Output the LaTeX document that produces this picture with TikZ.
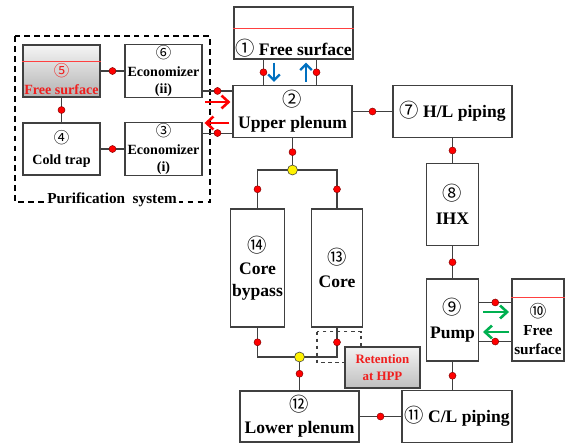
\documentclass[tikz,border=0pt]{standalone}
\usepackage{fontspec}
\setmainfont{Liberation Serif}
\newfontfamily\numfont[Scale=1.1]{Noto Sans CJK JP}
\usetikzlibrary{arrows.meta,calc}

\definecolor{lncol}{RGB}{64,64,64}
\definecolor{fsred}{RGB}{240,30,30}
\definecolor{flblue}{RGB}{0,112,192}
\definecolor{flgreen}{RGB}{0,176,80}
\newcommand{\cnum}[1]{{\numfont\mdseries #1}}

\tikzset{
  box/.style={draw=lncol,line width=0.9pt,fill=white,align=center,inner sep=1pt,
    font=\bfseries\fontsize{15}{19}\selectfont},
  bigbox/.style={box,minimum width=3.57cm,minimum height=1.56cm},
  tallbox/.style={box,minimum width=1.56cm,minimum height=2.46cm},
  colbox/.style={box,minimum width=1.54cm,minimum height=3.54cm},
  smallbox/.style={box,minimum width=2.31cm,minimum height=1.56cm,
    font=\bfseries\fontsize{12}{15}\selectfont},
  pipe/.style={draw=lncol,line width=0.9pt},
  rdot/.style={circle,fill=red,draw=red!50!black,line width=0.4pt,inner sep=0pt,minimum size=0.21cm},
  ydot/.style={circle,fill=yellow,draw=lncol,line width=0.5pt,inner sep=0pt,minimum size=0.3cm},
  flow/.style={line width=2pt,-{Straight Barb[length=5pt,width=10pt]}},
  bigflow/.style={line width=2.2pt,-{Straight Barb[length=6pt,width=11pt]}},
  level/.style={draw=red!75,line width=0.6pt}
}

\begin{document}
\begin{tikzpicture}[x=0.03cm,y=-0.03cm]
  \useasboundingbox (0,0) rectangle (574,444);
  % purification system
  \draw[black,line width=1.1pt,dash pattern=on 5pt off 3.5pt] (15,36) rectangle (210,202);
  \node[fill=white,inner sep=2pt,font=\bfseries\fontsize{13}{15}\selectfont] (purlbl) at (112,200) {Purification\ \ system};
  \node[smallbox,fill=none,shading=axis,top color=gray!8,middle color=gray!30,bottom color=gray!60] (b5) at (61.5,71) {};
  \draw[level] ($(b5.north west)+(0,17)$) -- ($(b5.north east)+(0,17)$);
  \node[text=fsred,align=center,font=\bfseries\fontsize{12}{15}\selectfont] (b5txt) at ($(b5.center)+(0,8)$) {\cnum{⑤}\\Free surface};
  \node[smallbox] (b6) at (163.5,71) {\cnum{⑥}\\Economizer\\(ii)};
  \node[smallbox] (b4) at (61.5,149) {\cnum{④}\\[3pt]Cold trap};
  \node[smallbox] (b3) at (163.5,149) {\cnum{③}\\Economizer\\(i)};
  \draw[pipe] (b5) -- node[rdot]{} (b6);
  \draw[pipe] (b5) -- node[rdot]{} (b4);
  \draw[pipe] (b4) -- node[rdot]{} (b3);

  % primary loop
  \node[bigbox] (b1) at (293.5,33) {};
  \draw[level] ($(b1.north west)+(0,22)$) -- ($(b1.north east)+(0,22)$);
  \node[font=\bfseries\fontsize{15}{19}\selectfont] (b1txt) at ($(b1.south)+(0,-11)$) {\cnum{①} Free surface};
  \node[bigbox] (b2) at (292.5,111.5) {\cnum{②}\\Upper plenum};
  \node[bigbox] (b7) at (452.5,111.5) {\cnum{⑦} H/L piping};
  \node[tallbox] (b8) at (452.5,204.5) {\cnum{⑧}\\[2pt]IHX};
  \node[tallbox] (b9) at (452.5,320) {\cnum{⑨}\\[2pt]Pump};
  \node[tallbox] (b10) at (538,320) {};
  \draw[level] ($(b10.north west)+(0,19)$) -- ($(b10.north east)+(0,19)$);
  \node[align=center,font=\bfseries\fontsize{13}{15.5}\selectfont] (b10txt) at ($(b10.center)+(0,9)$) {\cnum{⑩}\\Free\\surface};
  \node[bigbox,minimum width=3.3cm] (b11) at (457,416.5) {\cnum{⑪} C/L piping};
  \node[bigbox,minimum height=1.53cm] (b12) at (299.5,416.5) {\cnum{⑫}\\Lower plenum};
  \node[colbox] (b14) at (257.5,268) {\cnum{⑭}\\Core\\bypass};
  \node[colbox] (b13) at (337,268) {\cnum{⑬}\\Core};
  \coordinate (jtop) at (292.5,170);
  \coordinate (jbot) at (299.5,357);

  % connections
  \draw[pipe] ($(b1.south west)+(30,0)$) coordinate (f1) -- node[rdot]{} (f1 |- b2.north);
  \draw[pipe] ($(b1.south east)+(-37,0)$) coordinate (f2) -- node[rdot]{} (f2 |- b2.north);
  \draw[pipe] ($(b2.north west)+(0,6)$) coordinate (e2) -- node[rdot]{} (e2 -| b6.east);
  \draw[pipe] ($(b2.south west)+(0,-5)$) coordinate (e1) -- node[rdot]{} (e1 -| b3.east);
  \draw[pipe] (b2) -- node[rdot]{} (b7);
  \draw[pipe] (b7) -- node[rdot]{} (b8);
  \draw[pipe] (b8) -- node[rdot]{} (b9);
  \draw[pipe] (b9.south) -- node[rdot]{} (b9.south |- b11.north);
  \draw[pipe] ($(b9.north east)+(0,24)$) coordinate (p1) -- node[rdot]{} (p1 -| b10.west);
  \draw[pipe] ($(b9.south east)+(0,-20)$) coordinate (p2) -- node[rdot]{} (p2 -| b10.west);
  \draw[pipe] (b12) -- node[rdot]{} (b11);
  \draw[pipe] (b2.south) -- node[rdot,pos=0.44]{} (jtop);
  \draw[pipe] (jtop) -| node[rdot,pos=0.75]{} (b14.north);
  \draw[pipe] (jtop) -| node[rdot,pos=0.75]{} (b13.north);
  \draw[pipe] (b14.south) |- node[rdot,pos=0.25]{} (jbot);
  \draw[pipe] (b13.south) |- node[rdot,pos=0.25]{} (jbot);
  \draw[pipe] (jbot) -- node[rdot]{} (b12.north);
  \node[ydot] (ytop) at (jtop) {};
  \node[ydot] (ybot) at (jbot) {};

  % flow directions
  \draw[flow,flblue] ($(b1.south)+(-19.5,3)$) -- ($(b2.north)+(-18.5,-3)$);
  \draw[flow,flblue] ($(b2.north)+(13.5,-3)$) -- ($(b1.south)+(12.5,3)$);
  \draw[bigflow,red] ($(b2.west)+(-27,-9.5)$) -- ($(b2.west)+(-2,-9.5)$);
  \draw[bigflow,red] ($(b2.west)+(-3,11.5)$) -- ($(b2.west)+(-28,11.5)$);
  \draw[bigflow,flgreen] ($(b9.east)+(4,-8)$) -- ($(b9.east)+(30,-8)$);
  \draw[bigflow,flgreen] ($(b9.east)+(30,12)$) -- ($(b9.east)+(4,12)$);

  % retention at the hot pool
  \draw[lncol,line width=0.9pt,dashed] ($(b13.south)+(-20,4)$) rectangle ($(b13.south)+(24,35)$);
  \node[draw=lncol,line width=0.9pt,top color=gray!10,bottom color=gray!50,minimum width=2.25cm,
    minimum height=1.23cm,text=fsred,align=center,font=\bfseries\fontsize{11}{14}\selectfont] (ret) at (382.5,367.5) {Retention\\at HPP};
\end{tikzpicture}
\end{document}
